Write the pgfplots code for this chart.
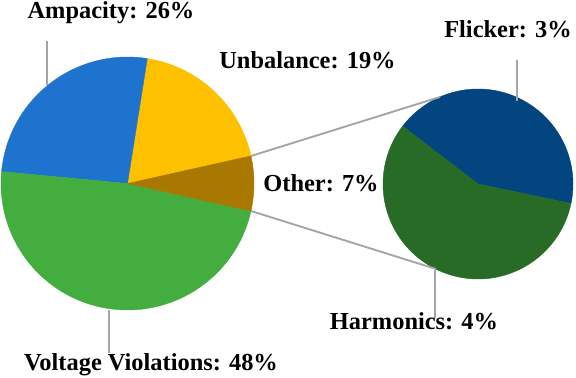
\documentclass[border=0pt]{standalone}
\usepackage{fontspec}
\setmainfont{Liberation Serif}
\usepackage{pgfplots}
\usepackage{pgfplotstable}
\pgfplotsset{compat=1.18}

\pgfplotstableread{
name value
Unbalance 19
Ampacity 26
Voltage 48
Other 7
}\maintable
\pgfplotstableread{
name value
Flicker 3
Harmonics 4
}\subtable

\definecolor{cAmp}{HTML}{1E73CE}
\definecolor{cUnb}{HTML}{FFC000}
\definecolor{cOth}{HTML}{A97800}
\definecolor{cVol}{HTML}{43AE3F}
\definecolor{cFli}{HTML}{03457F}
\definecolor{cHar}{HTML}{276B26}
\definecolor{cLine}{HTML}{A5A5A5}

\newcommand\sector[6]{%
  \addplot[fill=#1, draw=#1, line width=0.4bp, domain=#4:#5, samples=90, variable=\t]
    ({#2+#6*cos(t)},{#3+#6*sin(t)}) -- (axis cs:#2,#3) -- cycle;}

\begin{document}
\begin{tikzpicture}
\pgfplotstablegetelem{0}{value}\of\maintable \edef\vU{\pgfplotsretval}
\pgfplotstablegetelem{1}{value}\of\maintable \edef\vA{\pgfplotsretval}
\pgfplotstablegetelem{2}{value}\of\maintable \edef\vV{\pgfplotsretval}
\pgfplotstablegetelem{3}{value}\of\maintable \edef\vO{\pgfplotsretval}
\pgfplotstablegetelem{0}{value}\of\subtable \edef\vF{\pgfplotsretval}
\pgfplotstablegetelem{1}{value}\of\subtable \edef\vH{\pgfplotsretval}
\pgfmathsetmacro\aA{\vO*1.8}
\pgfmathsetmacro\aB{\aA+\vU*3.6}
\pgfmathsetmacro\aC{\aB+\vA*3.6}
\pgfmathsetmacro\aD{\aC+\vV*3.6}
\pgfmathsetmacro\aE{\aD+\vO*3.6}
\pgfmathsetmacro\sA{-11.8}
\pgfmathsetmacro\sB{\sA+\vF/(\vF+\vH)*360}
\pgfmathsetmacro\sC{\sA+360}
\begin{axis}[width=576bp, height=378bp, scale only axis,
  xmin=0, xmax=576, ymin=0, ymax=378, hide axis, clip=false]
  % main pie
  \sector{cUnb}{127.5}{194.5}{\aA}{\aB}{126.5}
  \sector{cAmp}{127.5}{194.5}{\aB}{\aC}{126.5}
  \sector{cVol}{127.5}{194.5}{\aC}{\aD}{126.5}
  \sector{cOth}{127.5}{194.5}{\aD}{\aE}{126.5}
  % secondary pie
  \sector{cFli}{478}{194}{\sA}{\sB}{95}
  \sector{cHar}{478}{194}{\sB}{\sC}{95}
  % connector lines
  \addplot[cLine, line width=1.9bp] coordinates {(251,222) (440,281)};
  \addplot[cLine, line width=1.9bp] coordinates {(251,167) (436,109)};
  % leader lines
  \addplot[cLine, line width=1.9bp] coordinates {(47,337) (47,293)};
  \addplot[cLine, line width=1.9bp] coordinates {(517,318) (517,277)};
  \addplot[cLine, line width=1.9bp] coordinates {(109,68) (109,25)};
  \addplot[cLine, line width=1.9bp] coordinates {(435,108) (435,60)};
  % labels
  \begin{scope}[every node/.style={anchor=base, font=\fontsize{24.5}{28}\selectfont\bfseries, inner sep=0pt}]
  \node at (axis cs:111,359.7) {Ampacity: 26\%};
  \node at (axis cs:307.5,309) {Unbalance: 19\%};
  \node at (axis cs:508,340.7) {Flicker: 3\%};
  \node at (axis cs:321,186.3) {Other: 7\%};
  \node at (axis cs:151,8) {Voltage Violations: 48\%};
  \node at (axis cs:414,48) {Harmonics: 4\%};
  \end{scope}
\end{axis}
\pgfresetboundingbox
\path (current axis.south west) rectangle (current axis.north east);
\end{tikzpicture}
\end{document}
